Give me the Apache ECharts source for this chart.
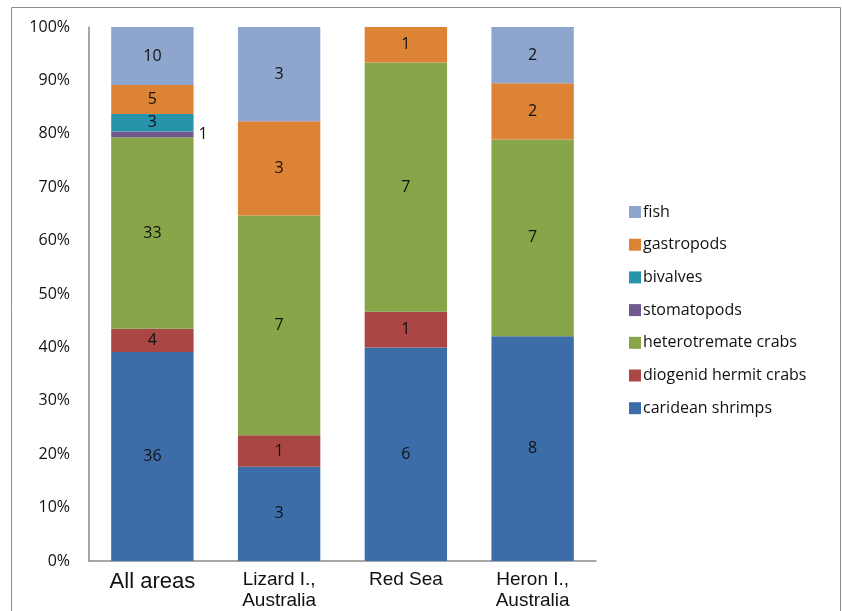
<!DOCTYPE html>
<html>
<head>
<meta charset="utf-8">
<script src="https://cdn.jsdelivr.net/npm/echarts@6/dist/echarts.min.js"></script>
<style>
  html, body { margin: 0; padding: 0; background: #fff; }
  #chart { width: 842px; height: 611px; }
</style>
</head>
<body>
<div id="chart"></div>
<script>
// data: prey counts per area
const areas = ['All areas', 'Lizard I.,\nAustralia', 'Red Sea', 'Heron I.,\nAustralia'];
const carideanShrimps = [36, 3, 6, 8];
const diogenidHermitCrabs = [4, 1, 1, 0];
const heterotremateCrabs = [33, 7, 7, 7];
const stomatopods = [1, 0, 0, 0];
const bivalves = [3, 0, 0, 0];
const gastropods = [5, 3, 1, 2];
const fish = [10, 3, 0, 2];
const yTicks = ['0%', '10%', '20%', '30%', '40%', '50%', '60%', '70%', '80%', '90%', '100%'];

const groups = [
  { name: 'caridean shrimps', counts: carideanShrimps, color: '#3D6DA8' },
  { name: 'diogenid hermit crabs', counts: diogenidHermitCrabs, color: '#AA4643' },
  { name: 'heterotremate crabs', counts: heterotremateCrabs, color: '#88A54A' },
  { name: 'stomatopods', counts: stomatopods, color: '#71588F' },
  { name: 'bivalves', counts: bivalves, color: '#2894AC' },
  { name: 'gastropods', counts: gastropods, color: '#DC8335' },
  { name: 'fish', counts: fish, color: '#8EA6CD' }
];

// share of each area's total, the axis runs 0..100 %
const totals = areas.map((_, i) => groups.reduce((s, g) => s + g.counts[i], 0));

const chart = echarts.init(document.getElementById('chart'), null, { renderer: 'canvas' });

const series = groups.map(g => ({
  name: g.name,
  type: 'bar',
  stack: 'all',
  barCategoryGap: '35%',
  itemStyle: { color: g.color },
  label: {
    show: true,
    position: g.name === 'stomatopods' ? 'right' : 'inside',
    distance: 5,
    color: '#111',
    fontFamily: 'Open Sans',
    fontSize: 16,
    formatter: p => g.counts[p.dataIndex] ? String(g.counts[p.dataIndex]) : ''
  },
  data: g.counts.map((c, i) => c ? c / totals[i] * 100 : null)
}));

chart.setOption({
  animation: false,
  textStyle: { fontFamily: 'Open Sans' },
  grid: { left: 89, top: 27, right: 246, bottom: 45, containLabel: false },
  graphic: [{
    type: 'rect',
    shape: { x: 11.5, y: 7.5, width: 829, height: 620 },
    style: { fill: 'none', stroke: '#8c8c8c', lineWidth: 1 },
    silent: true
  }],
  legend: {
    orient: 'vertical',
    left: 624,
    top: 199,
    itemWidth: 12,
    itemHeight: 12,
    itemGap: 16.7,
    icon: 'rect',
    data: groups.map(g => g.name).reverse(),
    textStyle: { fontFamily: 'Open Sans', fontSize: 16, lineHeight: 16, color: '#111', padding: [0, 0, 0, -3] }
  },
  xAxis: {
    type: 'category',
    data: areas,
    axisLine: { lineStyle: { color: '#8a8a8a', width: 1.5 } },
    axisTick: { show: false },
    axisLabel: {
      margin: 8,
      color: '#111',
      fontFamily: 'Liberation Sans',
      fontSize: 19,
      lineHeight: 21,
      interval: 0,
      formatter: (v, i) => i === 0 ? '{big|' + v + '}' : v,
      rich: { big: { fontSize: 22, fontFamily: 'Liberation Sans', color: '#111', padding: [5, 0, 0, 0] } }
    }
  },
  yAxis: {
    type: 'value',
    min: 0,
    max: 100,
    interval: 10,
    splitLine: { show: false },
    axisLine: { show: true, lineStyle: { color: '#8a8a8a', width: 1.5 } },
    axisTick: { show: false },
    axisLabel: {
      margin: 19,
      color: '#111',
      fontFamily: 'Open Sans',
      fontSize: 16,
      formatter: v => yTicks[Math.round(v / 10)]
    }
  },
  series
});
</script>
</body>
</html>
